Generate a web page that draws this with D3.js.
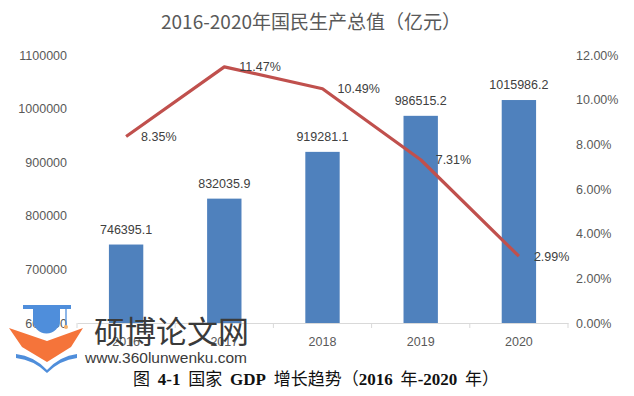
<!DOCTYPE html>
<html><head><meta charset="utf-8">
<script src="https://cdn.jsdelivr.net/npm/d3@7"></script>
<style>
html,body{margin:0;padding:0;background:#fff;}
svg{display:block;}
</style></head>
<body>
<svg id="chart" width="634" height="396"></svg>
<script>
const years = ["2016", "2017", "2018", "2019", "2020"];
const gdp = [746395.1, 832035.9, 919281.1, 986515.2, 1015986.2];
const growth = [0.0835, 0.1147, 0.1049, 0.0731, 0.0299];
const leftTicks = [600000, 700000, 800000, 900000, 1000000, 1100000];
const rightTicks = [0, 0.02, 0.04, 0.06, 0.08, 0.10, 0.12];
const title = "2016-2020年国民生产总值（亿元）";

const svg = d3.select("#chart");
const X0 = 77, X1 = 568, Y0 = 323, Y1 = 55;
const fontLat = "Liberation Sans, Arial, sans-serif";
const fontCJK = "'Noto Sans CJK SC', 'Liberation Sans', sans-serif";

const x = d3.scaleBand().domain(years).range([X0, X1]).padding(0);
const yL = d3.scaleLinear().domain([600000, 1100000]).range([Y0, Y1]);
const yR = d3.scaleLinear().domain([0, 0.12]).range([Y0, Y1]);
const barW = x.bandwidth() * 0.35;
const cx = d => x(d) + x.bandwidth() / 2;

// title
svg.append("text").attr("x", 311).attr("y", 29).attr("text-anchor", "middle")
  .attr("font-family", fontCJK).attr("font-size", 19).attr("fill", "#595959").text(title);

// left axis
const axL = d3.axisLeft(yL).tickValues(leftTicks).tickSize(0).tickPadding(0).tickFormat(d3.format("d"));
const gL = svg.append("g").attr("transform", `translate(67,0)`).call(axL);
gL.select(".domain").remove();
gL.selectAll("text").attr("font-family", fontLat).attr("font-size", 12.5).attr("fill", "#595959");

// right axis
const axR = d3.axisRight(yR).tickValues(rightTicks).tickSize(0).tickPadding(0).tickFormat(d3.format(".2%"));
const gR = svg.append("g").attr("transform", `translate(576,0)`).call(axR);
gR.select(".domain").remove();
gR.selectAll("text").attr("font-family", fontLat).attr("font-size", 12.5).attr("fill", "#595959");

// bars
svg.append("g").selectAll("rect").data(years).join("rect")
  .attr("x", d => cx(d) - barW / 2)
  .attr("width", barW)
  .attr("y", (d, i) => yL(gdp[i]))
  .attr("height", (d, i) => Y0 - yL(gdp[i]))
  .attr("fill", "#4F81BD");

// bottom axis
const axB = d3.axisBottom(x).tickSize(0).tickPadding(14);
const gB = svg.append("g").attr("transform", `translate(0,${Y0})`).call(axB);
gB.select(".domain").attr("stroke", "#d9d9d9");
gB.selectAll("text").attr("font-family", fontLat).attr("font-size", 12.5).attr("fill", "#595959");
const bounds = years.map(d => x(d)).concat([X1]);
gB.selectAll("line.bnd").data(bounds).join("line").attr("class", "bnd")
  .attr("x1", d => d).attr("x2", d => d).attr("y1", 0).attr("y2", 5)
  .attr("stroke", "#d9d9d9");

// bar labels
svg.append("g").selectAll("text").data(years).join("text")
  .attr("x", d => cx(d)).attr("y", (d, i) => yL(gdp[i]) - 11)
  .attr("text-anchor", "middle")
  .attr("font-family", fontLat).attr("font-size", 12.5).attr("fill", "#404040")
  .text((d, i) => d3.format(".1f")(gdp[i]));

// line
const line = d3.line().x(d => cx(d)).y((d, i) => yR(growth[i]));
svg.append("path").datum(years).attr("d", line)
  .attr("fill", "none").attr("stroke", "#C0504D").attr("stroke-width", 3.2)
  .attr("stroke-linejoin", "round");

// line labels
svg.append("g").selectAll("text").data(years).join("text")
  .attr("x", d => cx(d) + 15).attr("y", (d, i) => yR(growth[i]) + 4.5)
  .attr("font-family", fontLat).attr("font-size", 12.5).attr("fill", "#404040")
  .text((d, i) => d3.format(".2%")(growth[i]));

// watermark logo
const wm = svg.append("g");
const capBlue = "#4F8EDB";
wm.append("path").attr("d", "M9,328 L47,341 L83,328 L71,347 L47,362 L22,347 Z").attr("fill", "#F5743A");
wm.append("rect").attr("x", 23).attr("y", 305).attr("width", 48).attr("height", 4).attr("fill", capBlue);
wm.append("path").attr("d", "M33,309 L60,309 L60,320 A13.5,13.5 0 0 1 33,320 Z").attr("fill", capBlue);
wm.append("line").attr("x1", 66).attr("x2", 66).attr("y1", 308).attr("y2", 326).attr("stroke", capBlue).attr("stroke-width", 1.3);
wm.append("circle").attr("cx", 66).attr("cy", 327).attr("r", 2).attr("fill", "#F6B36B");
wm.append("path").attr("d", "M16,354 Q34,356 47,370 Q60,356 77,354 L77,358 Q60,360 47,373 Q34,360 16,358 Z").attr("fill", capBlue);
wm.append("text").attr("x", 94).attr("y", 343).attr("font-family", fontCJK).attr("font-size", 31)
  .attr("fill", "#3a3a3a").text("硕博论文网");
wm.append("text").attr("x", 85).attr("y", 363).attr("font-family", fontLat).attr("font-size", 15.5)
  .attr("fill", "#3a3a3a").text("www.360lunwenku.com");

// caption
const cap = svg.append("text").attr("x", 133).attr("y", 385).attr("font-size", 17).attr("fill", "#111")
  .attr("word-spacing", "4px").attr("xml:space", "preserve");
const parts = [
  ["图 ", false], ["4-1", true], [" 国家 ", false], ["GDP", true], [" 增长趋势（", false],
  ["2016", true], [" 年", false], ["-2020", true], [" 年）", false]
];
parts.forEach(([t, b]) => {
  cap.append("tspan").text(t)
    .attr("font-family", b ? "'Liberation Serif', 'Times New Roman', serif" : "'Noto Sans CJK SC', serif")
    .attr("font-weight", b ? "bold" : "normal");
});
</script>
</body></html>
